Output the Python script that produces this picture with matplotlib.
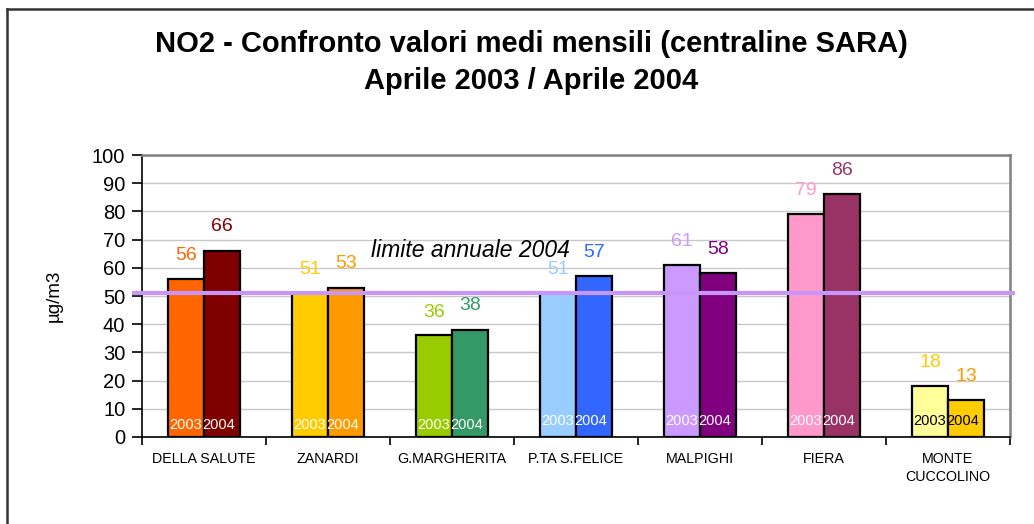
import numpy as np
import matplotlib
matplotlib.use("Agg")
import matplotlib.pyplot as plt
from matplotlib.lines import Line2D

plt.rcParams["font.family"] = ["Liberation Sans", "DejaVu Sans"]

stations = ["DELLA SALUTE", "ZANARDI", "G.MARGHERITA", "P.TA S.FELICE",
            "MALPIGHI", "FIERA", "MONTE\nCUCCOLINO"]
v2003 = [56, 51, 36, 51, 61, 79, 18]
v2004 = [66, 53, 38, 57, 58, 86, 13]
limit_2004 = 51

col_2003 = ["#FF6600", "#FFCC00", "#99CC00", "#99CCFF", "#CC99FF", "#FF99CC", "#FFFF99"]
col_2004 = ["#800000", "#FF9900", "#339966", "#3366FF", "#800080", "#993366", "#FFCC00"]
lab_2003 = ["#FF6600", "#FFCC00", "#99CC00", "#99CCFF", "#CC99FF", "#FF99CC", "#FFCC00"]
lab_2004 = ["#800000", "#FF9900", "#339966", "#3366FF", "#800080", "#993366", "#FF9900"]
year_col = ["white"] * 6 + ["black"]
year_y = [4.3, 4.3, 4.3, 5.7, 5.7, 5.7, 5.5]

fig = plt.figure(figsize=(10.34, 5.24), dpi=100)
ax = fig.add_axes([142 / 1034, 87 / 524, 868 / 1034, 282 / 524])

x = np.arange(len(stations))
w = 0.29
ax.bar(x - w / 2, v2003, w, color=col_2003, edgecolor="black", linewidth=1.6, zorder=3)
ax.bar(x + w / 2, v2004, w, color=col_2004, edgecolor="black", linewidth=1.6, zorder=3)

for i in range(len(stations)):
    ax.text(x[i] - w / 2, v2003[i] + 8.3, str(v2003[i]), color=lab_2003[i],
            ha="center", va="center", fontsize=14, zorder=5)
    ax.text(x[i] + w / 2, v2004[i] + 8.5, str(v2004[i]), color=lab_2004[i],
            ha="center", va="center", fontsize=14, zorder=5)
    ax.text(x[i] - w / 2, year_y[i], "2003", color=year_col[i],
            ha="center", va="center", fontsize=10.5, zorder=5)
    ax.text(x[i] + w / 2 - 0.03, year_y[i], "2004", color=year_col[i],
            ha="center", va="center", fontsize=10.5, zorder=5)

# limit line (drawn a bit past the plot area, as in the original)
ax.plot([-0.58, 6.54], [limit_2004, limit_2004], color="#C896F8", linewidth=3,
        clip_on=False, zorder=4, solid_capstyle="butt")
ax.text(2.15, 66.3, "limite annuale 2004", style="italic", fontsize=16.5,
        ha="center", va="center", zorder=5)

ax.set_xlim(-0.5, 6.5)
ax.set_ylim(0, 100)
ax.set_yticks(np.arange(0, 101, 10))
ax.tick_params(axis="y", labelsize=14.5, length=7, width=1.2, pad=5)
ax.set_xticks(x)
ax.set_xticklabels(stations, fontsize=10.3, linespacing=1.3)
ax.set_xticks(np.arange(-0.5, 7, 1), minor=True)
ax.tick_params(axis="x", which="major", length=0, pad=11)
ax.tick_params(axis="x", which="minor", length=6, width=1.2)
ax.grid(axis="y", color="#C8C8C8", linewidth=1, zorder=0)
ax.set_axisbelow(True)

ax.spines["left"].set_color("black")
ax.spines["left"].set_linewidth(1.2)
ax.spines["bottom"].set_color("black")
ax.spines["bottom"].set_linewidth(1.2)
for s in ("top", "right"):
    ax.spines[s].set_color("#808080")
    ax.spines[s].set_linewidth(1.8)

ax.set_ylabel("µg/m3", fontsize=13.5)
ax.yaxis.set_label_coords(-0.091, 0.5)

fig.text(531 / 1034, 1 - 62.5 / 524,
         "NO2 - Confronto valori medi mensili (centraline SARA)\nAprile 2003 / Aprile 2004",
         ha="center", va="center", fontsize=21, fontweight="bold", linespacing=1.38)

# outer chart frame (left and top visible)
fig.add_artist(Line2D([6.5 / 1034, 6.5 / 1034], [0, 1 - 9 / 524],
                      transform=fig.transFigure, color="#333333", linewidth=1.8))
fig.add_artist(Line2D([6.5 / 1034, 1], [1 - 9 / 524, 1 - 9 / 524],
                      transform=fig.transFigure, color="#333333", linewidth=1.8))

fig.savefig("out.png", dpi=100)
